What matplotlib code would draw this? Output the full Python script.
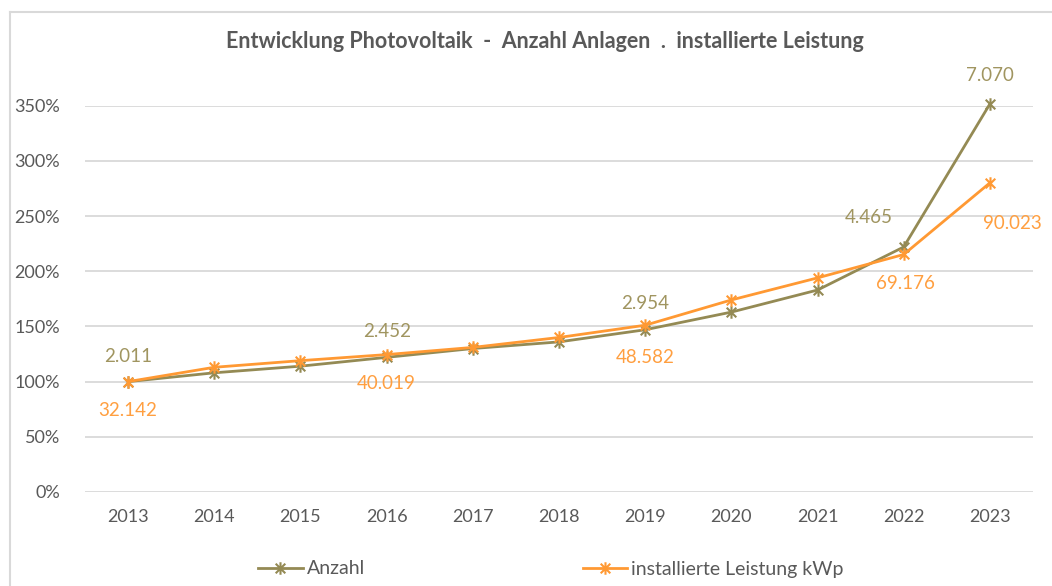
import matplotlib
matplotlib.use("Agg")
import matplotlib.pyplot as plt
from matplotlib.path import Path
from matplotlib.lines import Line2D
import numpy as np

years = ["2013", "2014", "2015", "2016", "2017", "2018", "2019", "2020", "2021", "2022", "2023"]
anzahl_pct = [1.00, 1.08, 1.14, 1.22, 1.30, 1.36, 1.47, 1.63, 1.83, 2.22, 3.516]
leistung_pct = [1.00, 1.13, 1.19, 1.245, 1.31, 1.40, 1.511, 1.74, 1.94, 2.152, 2.801]
anzahl_labels = {0: "2.011", 3: "2.452", 6: "2.954", 9: "4.465", 10: "7.070"}
leistung_labels = {0: "32.142", 3: "40.019", 6: "48.582", 9: "69.176", 10: "90.023"}
yticks = [0, 0.5, 1.0, 1.5, 2.0, 2.5, 3.0, 3.5]
ytick_labels = ["0%", "50%", "100%", "150%", "200%", "250%", "300%", "350%"]

plt.rcParams['font.family'] = ['Lato', 'DejaVu Sans']

c_olive = "#948A54"
c_orange = "#FF9933"
c_text = "#595959"

star = Path([(-1, -1), (1, 1), (-1, 1), (1, -1), (0, -1.3), (0, 1.3)],
            [Path.MOVETO, Path.LINETO, Path.MOVETO, Path.LINETO, Path.MOVETO, Path.LINETO])

fig = plt.figure(figsize=(10.52, 5.86), dpi=100)
ax = fig.add_axes([85/1052, 1-492/586, (1033-85)/1052, (492-105.7)/586])

x = np.arange(len(years))
ax.plot(x, anzahl_pct, color=c_olive, lw=2, marker=star, ms=9, mew=1.5, clip_on=False, zorder=3, label="Anzahl")
ax.plot(x, leistung_pct, color=c_orange, lw=2, marker=star, ms=9, mew=1.5, clip_on=False, zorder=4, label="installierte Leistung kWp")

ax.set_xlim(-0.5, len(years) - 0.5)
ax.set_ylim(0, 3.5)
ax.set_yticks(yticks)
ax.set_yticklabels(ytick_labels)
ax.set_xticks(x)
ax.set_xticklabels(years)
ax.tick_params(axis='both', length=0, labelsize=13, colors=c_text)
ax.tick_params(axis='y', pad=18)
ax.tick_params(axis='x', pad=12)
ax.grid(axis='y', color="#D9D9D9", lw=1.3)
ax.set_axisbelow(True)
for s in ax.spines.values():
    s.set_visible(False)

a_off = {0: (0, 25), 3: (0, 26), 6: (0, 26), 9: (-35, 29), 10: (0, 28)}
l_off = {0: (0, -29), 3: (0, -29), 6: (0, -32), 9: (2, -29), 10: (22, -41)}
for i, t in anzahl_labels.items():
    ax.annotate(t, (x[i], anzahl_pct[i]), xytext=a_off[i], textcoords='offset pixels',
                ha='center', va='center', fontsize=13.5, color="#A09560", annotation_clip=False)
for i, t in leistung_labels.items():
    ax.annotate(t, (x[i], leistung_pct[i]), xytext=l_off[i], textcoords='offset pixels',
                ha='center', va='center', fontsize=13.5, color="#FF9F40", annotation_clip=False)

fig.text(545/1052, 1-42/586, "Entwicklung Photovoltaik  -  Anzahl Anlagen  .  installierte Leistung",
         ha='center', va='center', fontsize=15.5, fontweight='bold', color=c_text)

handles = [Line2D([], [], color=c_olive, lw=2, marker=star, ms=9, mew=1.5),
           Line2D([], [], color=c_orange, lw=2, marker=star, ms=9, mew=1.5)]
fig.legend(handles, ["Anzahl", "installierte Leistung kWp"], loc='center',
           bbox_to_anchor=(551/1052, 1-569/586), ncol=2, frameon=False, fontsize=14,
           columnspacing=11.2, handlelength=2.3, handletextpad=0.2, labelcolor=c_text)

# chart border
fig.add_artist(Line2D([10/1052, 10/1052], [0, 1-12/586], color="#D9D9D9", lw=1.5, transform=fig.transFigure))
fig.add_artist(Line2D([10/1052, 1], [1-12/586, 1-12/586], color="#D9D9D9", lw=1.5, transform=fig.transFigure))

fig.savefig("out.png", dpi=100)
